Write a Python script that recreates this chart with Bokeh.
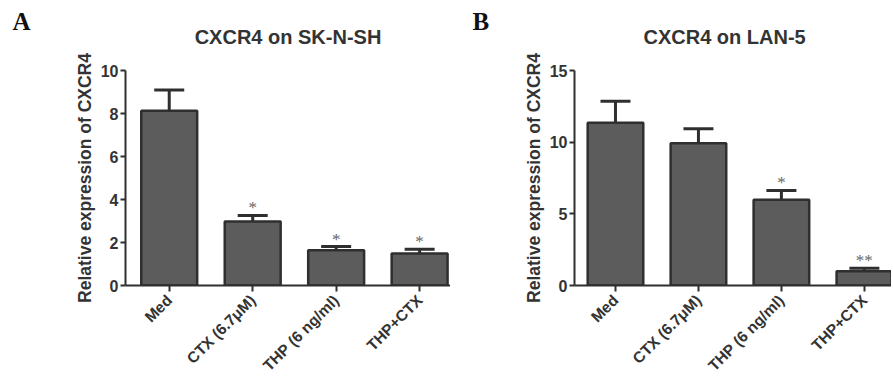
import math
from bokeh.plotting import figure
from bokeh.layouts import row
from bokeh.models import (ColumnDataSource, Whisker, TeeHead, FixedTicker,
                          LabelSet, Range1d, Title)
from bokeh.embed import file_html
from bokeh.resources import INLINE

categories = ["Med", "CTX (6.7\u03bcM)", "THP (6 ng/ml)", "THP+CTX"]
positions = [0, 1, 2, 3]

sk_values = [8.13, 2.98, 1.64, 1.49]
sk_upper = [9.09, 3.26, 1.81, 1.69]
sk_stars = ["", "*", "*", "*"]

lan_values = [11.35, 9.93, 5.98, 0.99]
lan_upper = [12.86, 10.94, 6.63, 1.20]
lan_stars = ["", "", "*", "**"]

sk_ticks = [0, 2, 4, 6, 8, 10]
lan_ticks = [0, 5, 10, 15]

SANS = "Liberation Sans"
SERIF = "Liberation Serif"
DARK = "#2f2f2f"
FILL = "#5c5c5c"


def panel(title, letter, values, upper, stars, yticks, ymax, xr, width,
          left, right, letter_offset, title_align, title_offset):
    p = figure(width=width, height=383, output_backend="svg",
               toolbar_location=None, x_range=Range1d(*xr),
               y_range=Range1d(0, ymax), min_border_left=left,
               min_border_right=right, min_border_top=70,
               min_border_bottom=94, title=letter)
    p.outline_line_color = None
    p.grid.visible = False
    p.background_fill_color = "white"
    p.border_fill_color = "white"

    # panel letter (outermost title)
    p.title.text_font = SERIF
    p.title.text_font_size = "25px"
    p.title.text_font_style = "bold"
    p.title.text_color = "#111111"
    p.title.align = "left"
    p.title.offset = letter_offset
    p.title.standoff = -66

    main_title = Title(text=title, align=title_align, offset=title_offset,
                       text_font=SANS, text_font_style="bold",
                       text_font_size="20px", text_color="#333333",
                       standoff=45)
    p.add_layout(main_title, "above")

    src = ColumnDataSource(dict(x=positions, top=values, upper=upper,
                                stars=stars))
    p.vbar(x="x", top="top", bottom=0, width=0.67, source=src,
           fill_color=FILL, line_color=DARK, line_width=2.5)
    w = Whisker(base="x", upper="upper", lower="top", source=src,
                line_color=DARK, line_width=3, lower_head=None,
                upper_head=TeeHead(size=30, line_color=DARK, line_width=3))
    p.add_layout(w)
    stars_set = LabelSet(x="x", y="upper", text="stars", source=src,
                         text_align="center", text_baseline="alphabetic",
                         y_offset=2, text_font=SANS, text_font_size="17px",
                         text_color="#666666")
    p.add_layout(stars_set)

    for ax in (p.xaxis[0], p.yaxis[0]):
        ax.axis_line_color = DARK
        ax.axis_line_width = 2
        ax.major_tick_line_color = DARK
        ax.major_tick_line_width = 2
        ax.minor_tick_line_color = None
        ax.major_tick_in = 0
        ax.major_tick_out = 5
        ax.major_label_text_font = SANS
        ax.major_label_text_font_style = "bold"
        ax.major_label_text_font_size = "16px"
        ax.major_label_text_color = "#333333"

    p.yaxis.ticker = FixedTicker(ticks=yticks)
    p.yaxis.major_label_standoff = 2
    p.yaxis.axis_label = "Relative expression of CXCR4"
    p.yaxis.axis_label_text_font = SANS
    p.yaxis.axis_label_text_font_style = "bold"
    p.yaxis.axis_label_text_font_size = "17.5px"
    p.yaxis.axis_label_text_color = "#333333"
    p.yaxis.axis_label_standoff = 3

    p.xaxis.ticker = FixedTicker(ticks=positions)
    p.xaxis.major_label_overrides = {pos: c for pos, c in zip(positions, categories)}
    p.xaxis.major_label_orientation = math.pi / 4
    p.xaxis.major_label_text_font_size = "15.5px"
    p.xaxis.major_label_standoff = 6
    p.xaxis.major_tick_out = 6
    return p


pa = panel("CXCR4 on SK-N-SH", "A", sk_values, sk_upper, sk_stars, sk_ticks,
           10, (-0.524, 3.37), 450, 125, 0, -113, "center", 0)
pb = panel("CXCR4 on LAN-5", "B", lan_values, lan_upper, lan_stars, lan_ticks,
           15, (-0.494, 3.327), 441, 124, 0, -102, "left", 69)

layout = row(pa, pb)
open("out.html", "w").write(file_html(layout, INLINE))
